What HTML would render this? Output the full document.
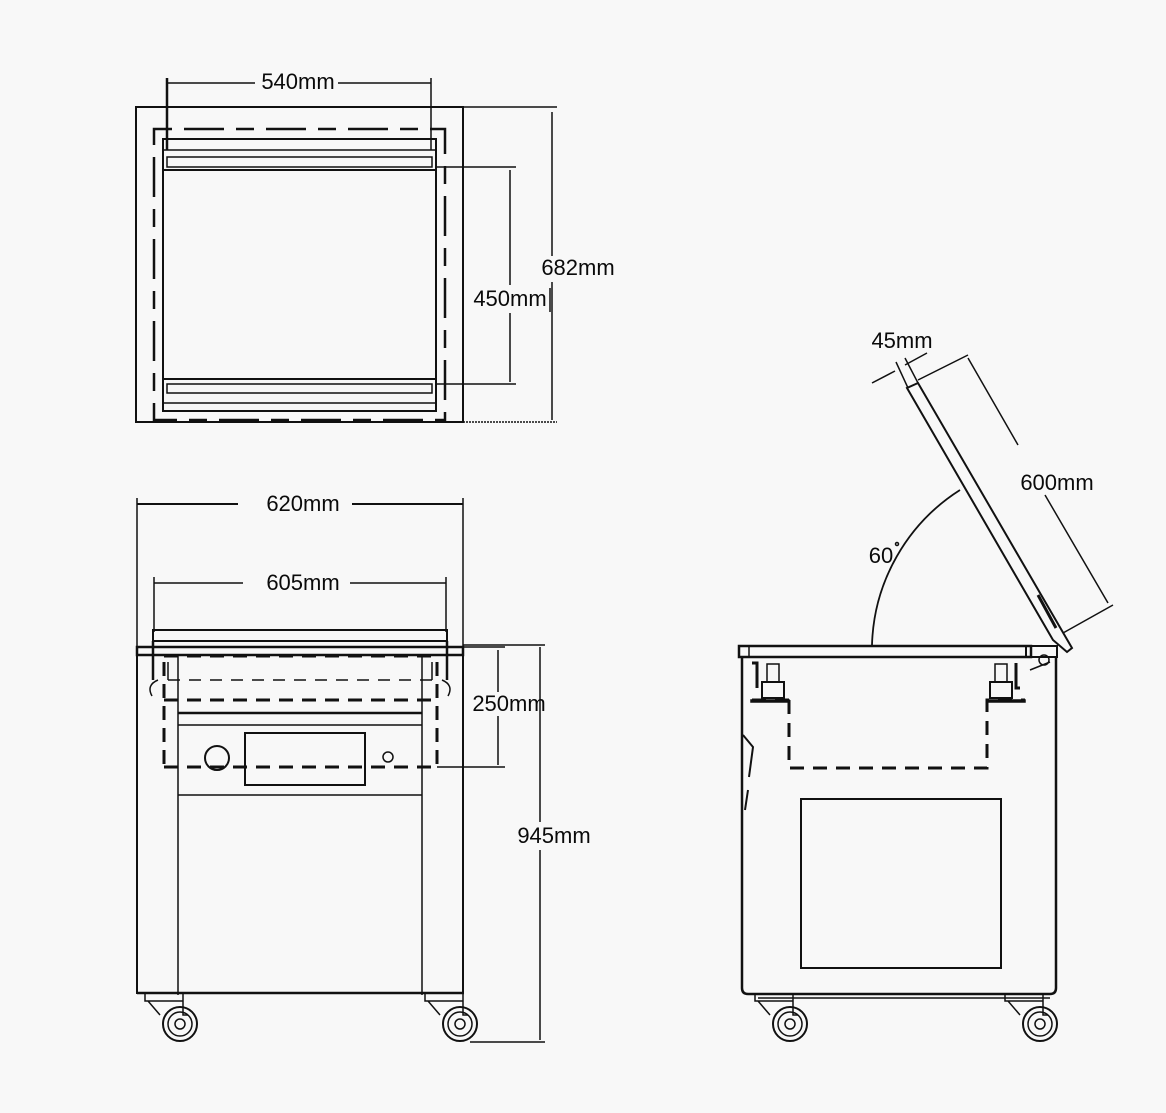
<!DOCTYPE html>
<html><head><meta charset="utf-8"><style>
html,body{margin:0;padding:0;background:#f8f8f8;}
svg{display:block}
text{font-family:"Liberation Sans",sans-serif;font-size:22px;fill:#0a0a0a}
</style></head><body>
<svg width="1166" height="1113" viewBox="0 0 1166 1113" xmlns="http://www.w3.org/2000/svg">
<rect width="1166" height="1113" fill="#f8f8f8"/>
<g fill="none" stroke="#111" stroke-width="1.5">
<!-- TOP VIEW -->
<rect x="136" y="107" width="327" height="315" stroke-width="2"/>
<line x1="463" y1="107" x2="557" y2="107"/>
<line x1="463" y1="422" x2="557" y2="422" stroke-dasharray="2 1"/>
<rect x="154" y="129" width="291" height="291" stroke-width="2.5" stroke-dasharray="18 12 40 12"/>
<rect x="163" y="139" width="273" height="272" stroke-width="2"/>
<line x1="163" y1="170" x2="436" y2="170" stroke-width="2"/>
<line x1="163" y1="150" x2="436" y2="150"/>
<rect x="167" y="157" width="265" height="10"/>
<line x1="163" y1="379" x2="436" y2="379" stroke-width="2"/>
<rect x="167" y="384" width="265" height="9"/>
<line x1="163" y1="403" x2="436" y2="403"/>
<line x1="167" y1="78" x2="167" y2="150" stroke-width="2.5"/>
<line x1="431" y1="78" x2="431" y2="150"/>
<line x1="167" y1="83" x2="255" y2="83"/>
<line x1="338" y1="83" x2="431" y2="83"/>
<line x1="552" y1="112" x2="552" y2="256"/>
<line x1="552" y1="282" x2="552" y2="420"/>
<line x1="436" y1="167" x2="516" y2="167"/>
<line x1="436" y1="384" x2="516" y2="384"/>
<line x1="510" y1="170" x2="510" y2="285"/>
<line x1="510" y1="313" x2="510" y2="382"/>
<line x1="550" y1="288" x2="550" y2="312"/>

<!-- FRONT VIEW -->
<line x1="137" y1="498" x2="137" y2="648"/>
<line x1="463" y1="498" x2="463" y2="648"/>
<line x1="137" y1="504" x2="238" y2="504" stroke-width="2"/>
<line x1="352" y1="504" x2="463" y2="504" stroke-width="2"/>
<line x1="154" y1="577" x2="154" y2="632"/>
<line x1="446" y1="577" x2="446" y2="632"/>
<line x1="154" y1="583" x2="243" y2="583"/>
<line x1="350" y1="583" x2="446" y2="583"/>
<rect x="153" y="630" width="294" height="11" stroke-width="2"/>
<rect x="137" y="647" width="326" height="8" stroke-width="2.5"/>
<line x1="153" y1="641" x2="153" y2="680" stroke-width="2.5"/>
<line x1="447" y1="641" x2="447" y2="680" stroke-width="2.5"/>
<line x1="164" y1="656" x2="437" y2="656" stroke-width="3" stroke-dasharray="14 9"/>
<line x1="168" y1="680" x2="432" y2="680" stroke-dasharray="12 9"/>
<line x1="164" y1="700" x2="437" y2="700" stroke-width="3" stroke-dasharray="14 9"/>
<line x1="164" y1="767" x2="437" y2="767" stroke-width="3" stroke-dasharray="14 9"/>
<line x1="164" y1="662" x2="164" y2="767" stroke-width="3" stroke-dasharray="14 8"/>
<line x1="437" y1="662" x2="437" y2="767" stroke-width="3" stroke-dasharray="14 8"/>
<path d="M168 662 v18 M432 662 v18"/>
<path d="M158 680 q-12 5 -6 16 M442 680 q12 5 6 16"/>
<line x1="178" y1="655" x2="178" y2="995"/>
<line x1="422" y1="655" x2="422" y2="995"/>
<line x1="178" y1="713" x2="422" y2="713" stroke-width="2.5"/>
<line x1="178" y1="725" x2="422" y2="725"/>
<rect x="245" y="733" width="120" height="52" stroke-width="2"/>
<circle cx="217" cy="758" r="12" stroke-width="2"/>
<circle cx="388" cy="757" r="5"/>
<line x1="178" y1="795" x2="422" y2="795"/>
<line x1="137" y1="655" x2="137" y2="994" stroke-width="2"/>
<line x1="463" y1="655" x2="463" y2="994" stroke-width="2"/>
<line x1="137" y1="993" x2="464" y2="993" stroke-width="2.5"/>
<line x1="463" y1="647" x2="505" y2="647"/>
<line x1="437" y1="767" x2="505" y2="767"/>
<line x1="498" y1="650" x2="498" y2="692"/>
<line x1="498" y1="716" x2="498" y2="765"/>
<line x1="463" y1="645" x2="545" y2="645"/>
<line x1="470" y1="1042" x2="545" y2="1042"/>
<line x1="540" y1="647" x2="540" y2="822"/>
<line x1="540" y1="850" x2="540" y2="1040"/>
<g>
<path d="M145 994 v7 h38 v-7 M148 1001 l12 14 M183 1001 v14 h5"/>
<circle cx="180" cy="1024" r="17" stroke-width="2"/>
<circle cx="180" cy="1024" r="12"/>
<circle cx="180" cy="1024" r="5"/>
</g>
<g transform="translate(280,0)">
<path d="M145 994 v7 h38 v-7 M148 1001 l12 14 M183 1001 v14 h5"/>
<circle cx="180" cy="1024" r="17" stroke-width="2"/>
<circle cx="180" cy="1024" r="12"/>
<circle cx="180" cy="1024" r="5"/>
</g>

<!-- SIDE VIEW -->
<rect x="739" y="646" width="292" height="11" stroke-width="2.5"/>
<rect x="1026" y="646" width="31" height="11" stroke-width="2"/>
<line x1="749" y1="646" x2="749" y2="657"/>
<path d="M742 657 V988 q0 6 6 6 H1050 q6 0 6 -6 V657" stroke-width="2.5"/>
<line x1="758" y1="998" x2="1050" y2="998"/>
<rect x="801" y="799" width="200" height="169" stroke-width="2"/>
<path d="M789 700 H750 M789 700 V768 H987 V700 H1025" stroke-width="3" stroke-dasharray="14 9"/>
<rect x="751" y="700" width="38" height="2" fill="#111"/>
<rect x="987" y="700" width="38" height="2" fill="#111"/>
<rect x="762" y="682" width="22" height="16" stroke-width="2"/>
<rect x="767" y="664" width="12" height="18"/>
<rect x="990" y="682" width="22" height="16" stroke-width="2"/>
<rect x="995" y="664" width="12" height="18"/>
<path d="M752 663 h5 v25 M1016 663 v25 h4" stroke-width="3"/>
<path d="M743 735 l10 12 l-4 30 M748 790 l-3 20" stroke-width="2"/>
<circle cx="1044" cy="660" r="5"/>
<path d="M1030 670 l20 -8"/>
<g transform="translate(610,0)">
<path d="M145 994 v7 h38 v-7 M148 1001 l12 14 M183 1001 v14 h5"/>
<circle cx="180" cy="1024" r="17" stroke-width="2"/>
<circle cx="180" cy="1024" r="12"/>
<circle cx="180" cy="1024" r="5"/>
</g>
<g transform="translate(860,0)">
<path d="M145 994 v7 h38 v-7 M148 1001 l12 14 M183 1001 v14 h5"/>
<circle cx="180" cy="1024" r="17" stroke-width="2"/>
<circle cx="180" cy="1024" r="12"/>
<circle cx="180" cy="1024" r="5"/>
</g>
<path d="M907 388 L1053 640 L1067 652 L1072 648 L918 383 Z" stroke-width="2"/>
<line x1="1038" y1="595" x2="1056" y2="628" stroke-width="3"/>
<line x1="918" y1="380" x2="968" y2="355"/>
<line x1="1063" y1="633" x2="1113" y2="605"/>
<line x1="968" y1="358" x2="1018" y2="445"/>
<line x1="1045" y1="495" x2="1108" y2="603"/>
<line x1="872" y1="383" x2="895" y2="371"/>
<line x1="905" y1="365" x2="927" y2="353"/>
<line x1="896" y1="362" x2="908" y2="388"/>
<line x1="905" y1="358" x2="918" y2="383"/>
<path d="M872 645 A190 190 0 0 1 960 490" stroke-width="1.8"/>
<circle cx="897" cy="544" r="1.5"/>
</g>
<text x="902" y="348" text-anchor="middle">45mm</text>
<text x="1057" y="490" text-anchor="middle">600mm</text>
<text x="881" y="563" text-anchor="middle">60</text>
<text x="298" y="89" text-anchor="middle">540mm</text>
<text x="578" y="275" text-anchor="middle">682mm</text>
<text x="510" y="306" text-anchor="middle">450mm</text>
<text x="303" y="511" text-anchor="middle">620mm</text>
<text x="303" y="590" text-anchor="middle">605mm</text>
<text x="509" y="711" text-anchor="middle">250mm</text>
<text x="554" y="843" text-anchor="middle">945mm</text>
</svg>
</body></html>
